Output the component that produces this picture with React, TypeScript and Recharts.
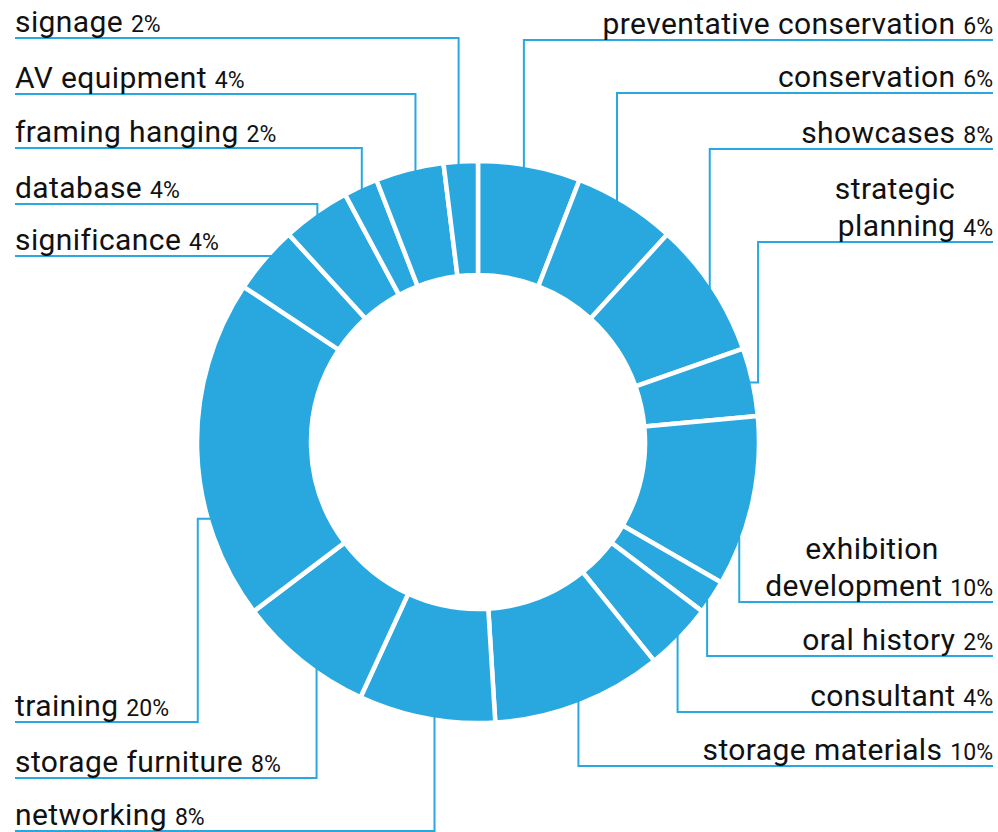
import { Pie, PieChart } from 'recharts';

const categories = [
  'preventative conservation',
  'conservation',
  'showcases',
  'strategic planning',
  'exhibition development',
  'oral history',
  'consultant',
  'storage materials',
  'networking',
  'storage furniture',
  'training',
  'significance',
  'database',
  'framing hanging',
  'AV equipment',
  'signage',
];
const shares = [6, 6, 8, 4, 10, 2, 4, 10, 8, 8, 20, 4, 4, 2, 4, 2];

const data = categories.map((name, i) => ({ name, value: shares[i] }));

const BLUE = '#29a8e0';
const FONT = 'Roboto, "Liberation Sans", sans-serif';

// label placement: which side, y of the underline, optional anchor angle
// (compass degrees, clockwise from 12 o'clock), elbow nudge, centre of wrapped head line
type LabelLayout = { side: 'left' | 'right'; lineY: number; angle?: number; dx?: number; headX?: number };
const labelLayout: LabelLayout[] = [
  { side: 'right', lineY: 40, angle: 9.5 },
  { side: 'right', lineY: 93, angle: 30 },
  { side: 'right', lineY: 149 },
  { side: 'right', lineY: 242, dx: 8.5, headX: 895 },
  { side: 'right', lineY: 602, angle: 110, headX: 872 },
  { side: 'right', lineY: 656, angle: 124.5 },
  { side: 'right', lineY: 712 },
  { side: 'right', lineY: 766 },
  { side: 'left', lineY: 831, angle: 189 },
  { side: 'left', lineY: 778, angle: 215.5 },
  { side: 'left', lineY: 722, angle: 254, dx: -13 },
  { side: 'left', lineY: 256, angle: 311.8 },
  { side: 'left', lineY: 204 },
  { side: 'left', lineY: 148 },
  { side: 'left', lineY: 94, angle: 347 },
  { side: 'left', lineY: 38, angle: 356 },
];

const LEFT_X = 15;
const RIGHT_X = 993;

function renderLabel(props: any) {
  const { cx, cy, midAngle, outerRadius, index, name, value } = props;
  const lay = labelLayout[index];
  const compass = lay.angle ?? 90 - midAngle;
  const rad = (compass * Math.PI) / 180;
  const r = outerRadius - 3;
  const ax = cx + r * Math.sin(rad);
  const ay = cy - r * Math.cos(rad);
  const ex = ax + (lay.dx ?? 0);
  const endX = lay.side === 'left' ? LEFT_X : RIGHT_X;
  const path = `M${ax},${ay} L${ex},${ay} L${ex},${lay.lineY} L${endX},${lay.lineY}`;
  const baseY = lay.lineY - 6;
  const anchor = lay.side === 'left' ? 'start' : 'end';
  const words = String(name).split(' ');
  const wrapped = lay.headX !== undefined;
  const tail = wrapped ? words.slice(1).join(' ') : name;
  return (
    <g key={`lbl-${index}`}>
      <path d={path} fill="none" stroke={BLUE} strokeWidth={2} />
      {wrapped && (
        <text
          x={lay.headX}
          y={baseY - 37}
          textAnchor="middle"
          fontFamily={FONT}
          fontSize={30}
          letterSpacing={0.4}
          fill="#111"
        >
          {words[0]}
        </text>
      )}
      <text x={endX} y={baseY} textAnchor={anchor} fontFamily={FONT} fill="#111">
        <tspan fontSize={30} letterSpacing={0.4}>{tail} </tspan>
        <tspan fontSize={23}>{value}%</tspan>
      </text>
    </g>
  );
}

export default function App() {
  return (
    <div style={{ position: 'absolute', left: 0, top: 0, background: '#fff' }}>
      <PieChart width={998} height={832} margin={{ top: 0, right: 0, bottom: 0, left: 0 }}>
        <Pie
          data={data}
          dataKey="value"
          nameKey="name"
          cx={478}
          cy={442}
          innerRadius={167}
          outerRadius={281}
          startAngle={90}
          endAngle={-270}
          fill={BLUE}
          stroke="#fff"
          strokeWidth={4.5}
          label={renderLabel}
          labelLine={false}
          isAnimationActive={false}
        />
      </PieChart>
    </div>
  );
}
